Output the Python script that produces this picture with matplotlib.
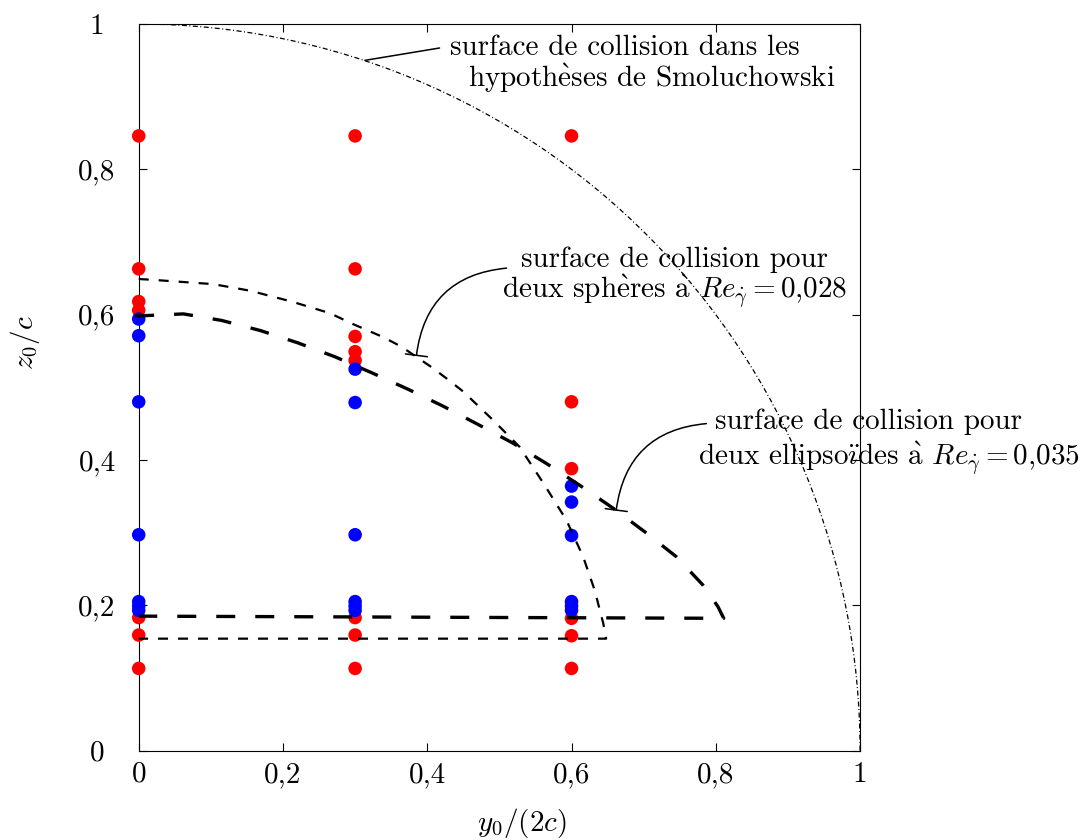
import matplotlib
matplotlib.use("Agg")
import matplotlib.pyplot as plt
from matplotlib.patches import Arc

plt.rcParams['font.family'] = ['cmr10', 'DejaVu Serif']
plt.rcParams['mathtext.fontset'] = 'cm'
plt.rcParams['axes.formatter.use_mathtext'] = True
plt.rcParams['axes.unicode_minus'] = False

# ---- data ----
col_x = [0.0, 0.3, 0.6]
red_col0 = [0.846, 0.663, 0.618, 0.606, 0.183, 0.159, 0.113]
blue_col0 = [0.594, 0.571, 0.480, 0.297, 0.205, 0.199, 0.193]
red_col1 = [0.846, 0.663, 0.570, 0.549, 0.537, 0.183, 0.159, 0.113]
blue_col1 = [0.525, 0.479, 0.297, 0.205, 0.199, 0.193]
red_col2 = [0.846, 0.480, 0.388, 0.182, 0.158, 0.113]
blue_col2 = [0.364, 0.342, 0.296, 0.205, 0.199, 0.193]

sphere_x = [0.0, 0.018, 0.103, 0.154, 0.212, 0.265, 0.297, 0.339, 0.364, 0.404, 0.427,
            0.450, 0.491, 0.528, 0.561, 0.593, 0.616, 0.632, 0.644, 0.648, 0.0]
sphere_y = [0.649, 0.648, 0.642, 0.633, 0.618, 0.602, 0.587, 0.569, 0.556, 0.529, 0.512,
            0.494, 0.455, 0.418, 0.368, 0.317, 0.267, 0.221, 0.175, 0.154, 0.154]

ellip_x = [-0.005, 0.062, 0.115, 0.169, 0.221, 0.272, 0.323, 0.374, 0.422, 0.472, 0.519,
           0.567, 0.613, 0.657, 0.703, 0.745, 0.782, 0.803, 0.811, 0.0]
ellip_y = [0.598, 0.601, 0.592, 0.578, 0.561, 0.542, 0.520, 0.497, 0.474, 0.448, 0.423,
           0.394, 0.364, 0.334, 0.300, 0.267, 0.228, 0.198, 0.182, 0.185]

tick_vals = [0, 0.2, 0.4, 0.6, 0.8, 1]
tick_labels = ['0', '0,2', '0,4', '0,6', '0,8', '1']

smol_label = ['surface de collision dans les',
              r'hypoth$\grave{\mathrm{e}}$ses de Smoluchowski']
sphere_label = ['surface de collision pour',
                r'deux sph$\grave{\mathrm{e}}$res $\grave{\mathrm{a}}$ $Re_{\dot{\gamma}}=$0,028']
ellip_label = ['surface de collision pour',
               r'deux ellipso$\ddot{\mathrm{\imath}}$des $\grave{\mathrm{a}}$ $Re_{\dot{\gamma}}=$0,035']

# ---- figure ----
fig = plt.figure(figsize=(10.88, 8.4), dpi=100)
ax = fig.add_axes([0.1275, 0.1065, 0.6630, 0.8649])
ax.set_xlim(0, 1)
ax.set_ylim(0, 1)

reds = [(col_x[0], red_col0), (col_x[1], red_col1), (col_x[2], red_col2)]
blues = [(col_x[0], blue_col0), (col_x[1], blue_col1), (col_x[2], blue_col2)]
for xc, ys in reds:
    ax.scatter([xc] * len(ys), ys, s=95, color='#ff0000', edgecolors='none', zorder=3, clip_on=False)
for xc, ys in blues:
    ax.scatter([xc] * len(ys), ys, s=95, color='#0000ff', edgecolors='none', zorder=4, clip_on=False)

ax.plot(sphere_x, sphere_y, color='black', lw=1.6, dashes=(4.5, 4.5), zorder=5, clip_on=False)
ax.plot(ellip_x, ellip_y, color='black', lw=2.4, dashes=(5.7, 6.0), zorder=5, clip_on=False)

arc = Arc((0, 0), 2, 2, theta1=0, theta2=90, color='black', lw=0.9,
          linestyle=(0, (4, 2, 0.8, 2)), zorder=5)
ax.add_patch(arc)

fs = 21
# Smoluchowski annotation
ax.annotate('', xy=(0.3136, 0.950), xytext=(0.417, 0.967),
            arrowprops=dict(arrowstyle='-', lw=1.1, shrinkA=0, shrinkB=0, color='black'))
ax.text(0.431, 0.957, smol_label[0], fontsize=fs, va='baseline', ha='left')
ax.text(0.456, 0.913, smol_label[1], fontsize=fs, va='baseline', ha='left')

# spheres annotation
ax.annotate('', xy=(0.385, 0.544), xytext=(0.510, 0.664),
            arrowprops=dict(arrowstyle='-[, widthB=0.8, lengthB=0', lw=1.1,
                            connectionstyle='arc3,rad=0.4', shrinkA=0, shrinkB=0, color='black'))
ax.text(0.530, 0.6655, sphere_label[0], fontsize=fs, va='baseline', ha='left')
ax.text(0.504, 0.6229, sphere_label[1], fontsize=fs, va='baseline', ha='left')

# ellipsoids annotation
ax.annotate('', xy=(0.662, 0.331), xytext=(0.787, 0.450),
            arrowprops=dict(arrowstyle='-[, widthB=0.8, lengthB=0', lw=1.1,
                            connectionstyle='arc3,rad=0.4', shrinkA=0, shrinkB=0, color='black'))
ax.text(0.799, 0.4425, ellip_label[0], fontsize=fs, va='baseline', ha='left', clip_on=False)
ax.text(0.775, 0.3930, ellip_label[1], fontsize=fs, va='baseline', ha='left', clip_on=False)

ax.set_xticks(tick_vals)
ax.set_xticklabels(tick_labels)
ax.set_yticks(tick_vals)
ax.set_yticklabels(tick_labels)
ax.tick_params(direction='in', length=5.8, width=0.8, top=True, right=True,
               labelsize=fs)
ax.tick_params(axis='x', pad=8)
ax.tick_params(axis='y', pad=30)
for lab in ax.get_yticklabels():
    lab.set_horizontalalignment('center')
for sp in ax.spines.values():
    sp.set_linewidth(0.8)

ax.set_xlabel(r'$y_0/(2c)$', fontsize=fs)
ax.xaxis.set_label_coords(0.531, -0.076)
ax.set_ylabel(r'$z_0/c$', fontsize=fs)
ax.yaxis.set_label_coords(-0.134, 0.562)

fig.savefig('out.png', dpi=100)
